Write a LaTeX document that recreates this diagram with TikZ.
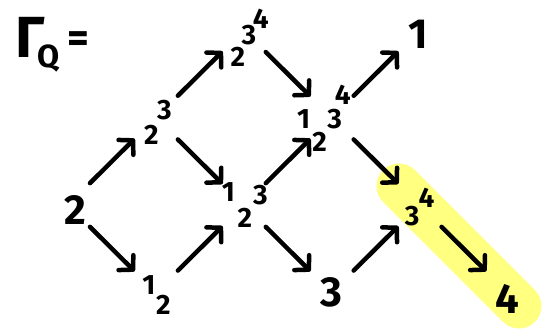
\documentclass[tikz,border=0pt]{standalone}
\usepackage{fontspec}
\setmainfont{Fira Sans}
\usetikzlibrary{arrows.meta,positioning}
\definecolor{marker}{HTML}{FFFF80}

\begin{document}
\begin{tikzpicture}[x=1pt,y=1pt,node distance=87pt and 87.5pt,
  hub/.style={inner sep=0pt,minimum size=0pt},
  big/.style={font=\bfseries\fontsize{42}{42}\selectfont,inner sep=0pt},
  sm/.style={font=\bfseries\fontsize{28}{28}\selectfont,inner sep=0pt},
  arr/.style={-{Straight Barb[length=10pt,width=21pt,round]},line width=4.5pt,line cap=round,shorten <=31pt,shorten >=30pt}]
\useasboundingbox (0,0) rectangle (543,-333);
% highlighted slice
\draw[marker,line width=45pt,line cap=round] (399,-186) -- (519,-306);
\node[font=\bfseries\fontsize{58}{58}\selectfont,inner sep=0pt] (gam) at (30.5,-37.5) {Γ};
\node[font=\bfseries\fontsize{32}{32}\selectfont,inner sep=0pt] (gamq) at (49,-58) {Q};
\node[font=\bfseries\fontsize{42}{42}\selectfont,inner sep=0pt] (eq) at (78.5,-42.5) {=};
% modules on the grid
\node[hub] (m2) at (68,-205) {};
\node[hub,above right=of m2] (m23) {};
\node[hub,below right=of m2] (m12) {};
\node[hub,above right=of m23] (m234) {};
\node[hub,below right=of m23] (m123) {};
\node[hub,below right=of m234] (m1234) {};
\node[hub,below right=of m123] (m3) {};
\node[hub,above right=of m1234] (m1) {};
\node[hub,below right=of m1234] (m34) {};
\node[hub,below right=of m34] (m4) {};
% digits
\node[big,xshift=7.5pt,yshift=-5pt] (m2-2) at (m2) {2};
\node[sm,xshift=-4.5pt,yshift=-17pt] (m23-2) at (m23) {2};
\node[sm,xshift=8.5pt,yshift=8pt] (m23-3) at (m23) {3};
\node[sm,xshift=-6pt,yshift=-27pt] (m234-2) at (m234) {2};
\node[sm,xshift=5pt,yshift=-5pt] (m234-3) at (m234) {3};
\node[sm,xshift=17pt,yshift=11pt] (m234-4) at (m234) {4};
\node[sm,xshift=-7pt,yshift=7pt] (m12-1) at (m12) {1};
\node[sm,xshift=7.5pt,yshift=-12pt] (m12-2) at (m12) {2};
\node[sm,xshift=-15.5pt,yshift=12.5pt] (m123-1) at (m123) {1};
\node[sm,xshift=1pt,yshift=-12.5pt] (m123-2) at (m123) {2};
\node[sm,xshift=16.5pt,yshift=10pt] (m123-3) at (m123) {3};
\node[sm,xshift=-28pt,yshift=-1pt] (m1234-1) at (m1234) {1};
\node[sm,xshift=-12pt,yshift=-24.5pt] (m1234-2) at (m1234) {2};
\node[sm,xshift=3pt,yshift=-1pt] (m1234-3) at (m1234) {3};
\node[sm,xshift=11pt,yshift=23pt] (m1234-4) at (m1234) {4};
\node[big,xshift=-1pt,yshift=-4pt] (m1-1) at (m1) {1};
\node[sm,xshift=-7.5pt,yshift=-11pt] (m34-3) at (m34) {3};
\node[sm,xshift=7pt,yshift=7.5pt] (m34-4) at (m34) {4};
\node[big] (m3-3) at (m3) {3};
\node[big,yshift=-6.5pt] (m4-4) at (m4) {4};
% irreducible maps
\draw[arr] (m2.center) -- (m23.center);
\draw[arr] (m2.center) -- (m12.center);
\draw[arr] (m12.center) -- (m123.center);
\draw[arr] (m23.center) -- (m123.center);
\draw[arr] (m23.center) -- (m234.center);
\draw[arr] (m234.center) -- (m1234.center);
\draw[arr] (m123.center) -- (m1234.center);
\draw[arr] (m123.center) -- (m3.center);
\draw[arr] (m1234.center) -- (m1.center);
\draw[arr] (m1234.center) -- (m34.center);
\draw[arr] (m3.center) -- (m34.center);
\draw[arr] (m34.center) -- (m4.center);
\end{tikzpicture}
\end{document}
